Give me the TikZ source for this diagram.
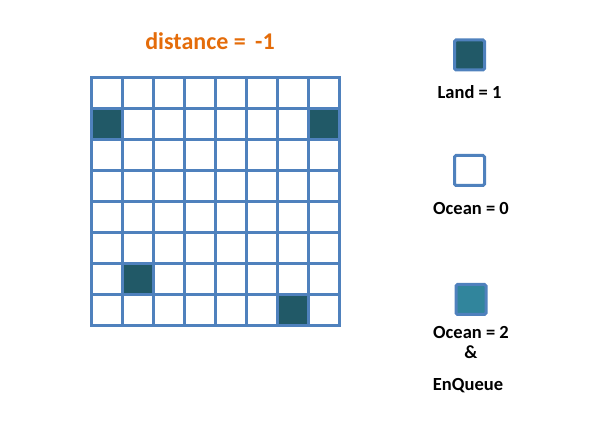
\documentclass[tikz,border=0pt]{standalone}
\usepackage{fontspec}
\setmainfont{Carlito}
\usepackage{tikz}
\usetikzlibrary{positioning}
\definecolor{gridblue}{HTML}{4F81BD}
\definecolor{landcol}{HTML}{215967}
\definecolor{queuecol}{HTML}{31859C}
\definecolor{titlecol}{HTML}{E46C0A}

\begin{document}
\begin{tikzpicture}[
    x=1pt, y=-1pt,
    font=\fontsize{18.5}{22}\selectfont\bfseries,
    cell/.style={draw=gridblue, line width=3pt, minimum size=31pt, inner sep=0pt, fill=white},
    landcell/.style={cell, fill=landcol},
    keybox/.style={draw=gridblue, line width=3pt, rounded corners=1.5pt, minimum size=30pt, inner sep=0pt},
    label/.style={inner sep=0pt, text height=13pt, text depth=4pt}
]
\useasboundingbox (0,0) rectangle (605,427);

% Title
\node[text=titlecol, font=\fontsize{24}{28}\selectfont\bfseries, anchor=base] (title) at (210,50) {distance = \,-1};

% 8x8 grid of ocean cells
\foreach \r in {1,...,8}
  \foreach \c in {1,...,8}
    \node[cell] (c-\r-\c) at ({91+31*(\c-0.5)},{78+31*(\r-0.5)}) {};

% Land cells
\foreach \r/\c [count=\i] in {2/1,2/8,7/2,8/7}
  \node[landcell] (land-\i) at (c-\r-\c) {};

% Legend
\node[keybox, fill=landcol] (keyland) at (469.5,55) {};
\node[label, below=14pt of keyland] (txtland) {Land = 1};

\node[keybox, fill=white] (keyocean) at (469.5,170.5) {};
\node[label, below=14.5pt of keyocean, xshift=1.5pt] (txtocean) {Ocean = 0};

\node[keybox, fill=queuecol] (keyqueue) at (471,299.5) {};
\node[label, below=9.5pt of keyqueue] (txtqueue) {Ocean = 2};
\node[label, below=2pt of txtqueue] (txtamp) {\&};
\node[label, below=15pt of txtamp, xshift=-3pt] (txtenq) {EnQueue};

\end{tikzpicture}
\end{document}
